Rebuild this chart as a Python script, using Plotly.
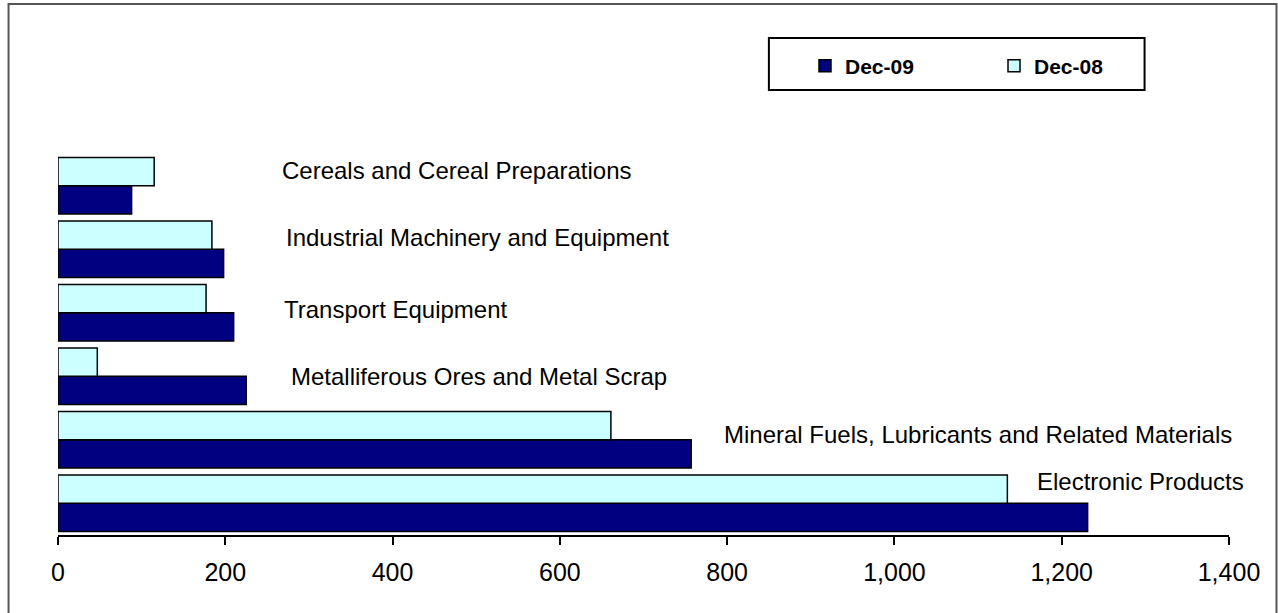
import plotly.graph_objects as go

# ---- data ----
categories = [
    "Electronic Products",
    "Mineral Fuels, Lubricants and Related Materials",
    "Metalliferous Ores and Metal Scrap",
    "Transport Equipment",
    "Industrial Machinery and Equipment",
    "Cereals and Cereal Preparations",
]
dec09 = [1231, 757, 225, 210, 198, 88]
dec08 = [1135, 661, 47, 177, 184, 115]
series_names = ["Dec-09", "Dec-08"]
x_ticks = [0, 200, 400, 600, 800, 1000, 1200, 1400]

# ---- layout constants (pixels) ----
W, H = 1278, 613
ML, MR, MT, MB = 57.5, 48.5, 154, 78
PW, PH = W - ML - MR, H - MT - MB

def px(x):
    return (x - ML) / PW

def py(y):
    return (H - MB - y) / PH

# label placement (data x start, pixel shift up)
label_x = [1168, 794, 276, 268, 270, 266]
label_shift = [22, 5, 0, 3, 12, 15]

FONT = "Arial, 'Liberation Sans', sans-serif"

fig = go.Figure()
fig.add_trace(go.Bar(
    y=categories, x=dec09, name=series_names[0], orientation="h",
    marker=dict(color="#000080", line=dict(color="black", width=1.5)),
))
fig.add_trace(go.Bar(
    y=categories, x=dec08, name=series_names[1], orientation="h",
    marker=dict(color="#CCFFFF", line=dict(color="black", width=1.5)),
))

annotations = []
for cat, lx, sh in zip(categories, label_x, label_shift):
    annotations.append(dict(
        x=lx, y=cat, xref="x", yref="y", text=cat, showarrow=False,
        xanchor="left", yanchor="middle", yshift=sh,
        font=dict(family=FONT, size=24, color="black"),
    ))

shapes = [
    # outer frame
    dict(type="rect", xref="paper", yref="paper",
         x0=px(8), x1=px(1277), y0=py(640), y1=py(4),
         line=dict(color="#555555", width=2), fillcolor="rgba(0,0,0,0)", layer="below"),
    # legend box
    dict(type="rect", xref="paper", yref="paper",
         x0=px(769), x1=px(1145), y0=py(90), y1=py(38),
         line=dict(color="black", width=2), fillcolor="white", layer="below"),
]

fig.update_layout(
    width=W, height=H,
    margin=dict(l=ML, r=MR, t=MT, b=MB),
    paper_bgcolor="white", plot_bgcolor="white",
    barmode="group", bargap=0.11, bargroupgap=0,
    font=dict(family=FONT, color="black"),
    showlegend=True,
    legend=dict(
        orientation="h", xref="container", yref="container",
        x=805 / W, y=1 - 66 / H, xanchor="left", yanchor="middle",
        entrywidth=144, entrywidthmode="pixels",
        font=dict(family=FONT, size=21, color="black", weight="bold"),
        bgcolor="rgba(0,0,0,0)", borderwidth=0,
        traceorder="normal",
    ),
    annotations=annotations,
    shapes=shapes,
)
fig.update_xaxes(
    range=[0, 1400], tickvals=x_ticks, tickformat=",d",
    showline=True, linecolor="black", linewidth=2,
    ticks="outside", ticklen=8, tickwidth=1.5, tickcolor="black",
    ticklabelstandoff=6,
    showgrid=False, zeroline=False,
    tickfont=dict(family=FONT, size=25, color="black"),
    fixedrange=True,
)
fig.update_yaxes(
    showticklabels=False, showline=False, ticks="", showgrid=False,
    zeroline=False, fixedrange=True,
)

fig.write_html(
    "out.html",
    config={"displayModeBar": False},
    post_script="document.body.style.margin='0';document.body.style.overflow='hidden';",
)
